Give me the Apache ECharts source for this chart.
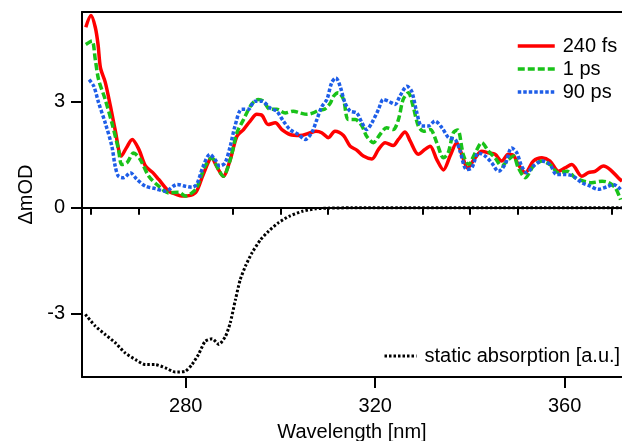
<!DOCTYPE html>
<html>
<head>
<meta charset="utf-8">
<script src="https://cdn.jsdelivr.net/npm/echarts@6/dist/echarts.min.js"></script>
<style>
html,body{margin:0;padding:0;background:#fff;}
#chart{width:622px;height:441px;}
</style>
</head>
<body>
<div id="chart"></div>
<script>
// ---- data ----
const seriesNames = ['240 fs', '1 ps', '90 ps'];
const staticName = 'static absorption [a.u.]';

const red240fs = [[258.9,5.1],[260.0,5.43],[260.9,5.1],[261.5,4.6],[262.0,3.95],[263.0,3.55],[264.1,2.87],[265.1,2.2],[266.4,1.46],[267.5,1.7],[268.7,1.93],[270.1,1.65],[271.5,1.18],[273.0,1.0],[274.3,0.8],[276.4,0.47],[278.0,0.38],[279.2,0.33],[281.0,0.35],[282.3,0.47],[283.7,0.94],[285.5,1.41],[286.5,1.18],[287.9,0.89],[289.4,1.36],[290.8,2.02],[292.2,2.21],[293.6,2.45],[295.0,2.64],[296.1,2.61],[297.4,2.35],[298.9,2.40],[300.3,2.21],[302.0,2.07],[304.1,2.04],[306.3,2.12],[307.5,2.16],[308.7,2.12],[310.1,1.98],[311.5,2.16],[313.3,2.04],[314.7,1.74],[316.1,1.63],[317.5,1.46],[319.3,1.38],[320.7,1.65],[322.1,1.84],[323.8,1.76],[324.9,1.93],[326.3,2.14],[327.4,1.88],[329.1,1.51],[330.5,1.65],[331.6,1.74],[333.0,1.36],[334.4,1.07],[335.8,1.46],[337.2,1.84],[338.3,1.5],[339.5,1.12],[341.1,1.41],[342.5,1.60],[343.9,1.55],[345.3,1.51],[346.7,1.32],[348.1,1.51],[349.2,1.48],[350.2,1.22],[351.7,0.99],[353.4,1.32],[355.2,1.41],[356.9,1.32],[358.7,1.03],[360.1,1.13],[361.5,1.22],[363.6,0.89],[365.0,0.99],[366.4,1.03],[368.2,1.18],[369.6,1.08],[371.3,0.85],[372.1,0.75]];

const green1ps = [[258.9,4.61],[260.2,4.71],[260.9,4.19],[261.6,3.62],[263.0,3.06],[264.4,2.40],[265.8,1.65],[266.5,1.22],[267.6,1.27],[269.0,1.55],[270.4,1.36],[272.2,0.89],[274.3,0.61],[276.4,0.42],[278.5,0.44],[279.9,0.33],[281.3,0.42],[282.3,0.56],[284.1,1.18],[285.5,1.41],[286.9,1.08],[287.9,0.89],[289.4,1.36],[290.8,2.12],[292.2,2.49],[293.9,2.92],[295.3,3.06],[296.4,3.01],[297.8,2.78],[299.2,2.78],[301.0,2.68],[302.7,2.73],[304.1,2.68],[305.6,2.64],[306.9,2.68],[308.0,2.75],[309.3,2.78],[310.5,2.95],[311.2,3.15],[312.2,3.25],[313.3,3.06],[314.3,2.49],[315.8,2.49],[317.2,2.31],[318.2,2.02],[319.6,1.84],[321.0,2.07],[322.4,2.26],[323.8,2.21],[324.9,2.49],[325.9,3.06],[327.0,3.25],[328.0,2.87],[329.1,2.31],[330.2,2.16],[331.6,2.21],[333.0,1.84],[334.4,1.41],[335.4,1.55],[336.5,2.12],[337.4,2.2],[338.6,1.5],[339.7,1.22],[341.1,1.55],[342.5,1.84],[343.9,1.60],[345.3,1.41],[346.7,1.18],[348.1,1.36],[349.2,1.46],[350.2,1.13],[351.7,0.85],[353.4,1.18],[355.2,1.32],[356.9,1.22],[358.7,0.99],[360.5,1.03],[362.2,0.85],[364.0,0.75],[365.7,0.71],[367.9,0.75],[369.3,0.71],[370.7,0.56],[371.8,0.23]];

const blue90ps = [[259.6,3.62],[260.6,3.43],[261.6,2.97],[263.0,2.40],[264.4,1.74],[265.1,1.18],[265.8,0.89],[266.9,0.85],[268.3,0.99],[269.7,0.80],[271.5,0.61],[273.6,0.54],[275.7,0.47],[278.2,0.66],[279.9,0.61],[281.3,0.58],[282.3,0.66],[283.7,1.18],[285.1,1.51],[286.2,1.36],[287.2,1.18],[288.3,1.27],[289.4,1.74],[290.4,2.31],[291.8,2.78],[293.2,2.78],[294.6,3.01],[296.1,3.01],[297.8,2.82],[299.2,2.73],[300.6,2.45],[302.0,2.21],[303.8,2.07],[305.2,1.93],[306.6,2.12],[307.7,2.5],[308.7,2.85],[309.8,3.06],[310.8,3.53],[311.7,3.67],[312.6,3.43],[313.6,2.97],[314.7,2.73],[316.1,2.68],[317.2,2.40],[318.2,2.21],[319.3,2.40],[320.7,2.78],[321.7,3.06],[322.8,3.01],[324.2,2.92],[325.2,3.15],[326.7,3.43],[327.7,3.29],[328.8,2.68],[329.8,2.31],[331.2,2.31],[332.6,2.45],[334.1,2.26],[335.5,1.98],[336.9,1.93],[337.9,1.6],[339.3,1.08],[340.4,1.13],[341.8,1.55],[343.2,1.46],[344.6,1.27],[346.0,1.03],[347.4,1.22],[348.8,1.69],[349.9,1.55],[350.9,1.18],[352.0,0.99],[353.4,1.18],[355.2,1.32],[356.9,1.22],[358.3,0.94],[360.1,0.94],[361.8,0.89],[363.6,0.71],[365.4,0.61],[367.1,0.52],[368.9,0.59],[370.3,0.66],[371.8,0.52]];

const staticAbs = [[258.8,-3.01],[260.9,-3.34],[263.0,-3.58],[265.1,-3.81],[267.2,-4.10],[269.4,-4.29],[271.5,-4.43],[273.6,-4.43],[275.7,-4.52],[277.8,-4.64],[279.9,-4.62],[281.3,-4.43],[282.7,-4.14],[284.1,-3.77],[285.6,-3.70],[287.0,-3.86],[288.4,-3.63],[289.4,-3.25],[290.5,-2.59],[291.5,-2.03],[292.6,-1.65],[294.0,-1.27],[295.8,-0.90],[297.5,-0.66],[299.6,-0.42],[301.8,-0.24],[304.6,-0.10],[307.4,-0.03],[310,-0.01],[315,0],[372.1,0]];

const xMajorTicks = [280, 320, 360];
const xMinorTicks = [260, 270, 290, 300, 310, 330, 340, 350, 370];
const yTicks = [-3, 0, 3];
const xRange = [258.1, 372.1];
const yRange = [-4.78, 5.53];
const xTitle = 'Wavelength [nm]';
const yTitle = 'ΔmOD';

// ---- chart ----
const FONT = 'Liberation Sans, Arial, sans-serif';
const FS = 20;
const chart = echarts.init(document.getElementById('chart'), null, {renderer: 'canvas'});

const lineBase = {type: 'line', showSymbol: false, symbol: 'none', smooth: 0.3, xAxisIndex: 0, yAxisIndex: 0};

chart.setOption({
  animation: false,
  backgroundColor: '#fff',
  grid: {left: 82, right: 0, top: 12, bottom: 64, containLabel: false, outerBoundsMode: 'none'},
  xAxis: [
    {type: 'value', position: 'bottom', min: xRange[0], max: xRange[1],
     name: xTitle, nameLocation: 'middle', nameGap: 45,
     nameTextStyle: {color: '#000', fontSize: FS, fontFamily: FONT},
     axisLine: {show: true, onZero: false, lineStyle: {color: '#000', width: 2}},
     axisTick: {show: true, customValues: xMajorTicks, length: 11, lineStyle: {color: '#000', width: 2}},
     axisLabel: {show: true, customValues: xMajorTicks, margin: 19, color: '#000', fontSize: FS, fontFamily: FONT},
     splitLine: {show: false}},
    {type: 'value', position: 'bottom', min: xRange[0], max: xRange[1],
     axisLine: {show: false},
     axisTick: {show: true, customValues: xMinorTicks, length: 7, lineStyle: {color: '#000', width: 2}},
     axisLabel: {show: false}, splitLine: {show: false}},
    {type: 'value', position: 'top', min: xRange[0], max: xRange[1],
     axisLine: {show: true, onZero: false, lineStyle: {color: '#000', width: 2}},
     axisTick: {show: false}, axisLabel: {show: false}, splitLine: {show: false}}
  ],
  yAxis: [{
    type: 'value', min: yRange[0], max: yRange[1],
    name: yTitle, nameLocation: 'middle', nameGap: 27,
    nameTextStyle: {color: '#000', fontSize: FS, fontFamily: FONT},
    axisLine: {show: true, onZero: false, lineStyle: {color: '#000', width: 2}},
    axisTick: {show: true, customValues: yTicks, length: 11, lineStyle: {color: '#000', width: 2}},
    axisLabel: {show: true, customValues: yTicks, margin: 17, color: '#000', fontSize: FS, fontFamily: FONT},
    splitLine: {show: false}
  }],
  legend: [
    {data: seriesNames, orient: 'vertical', left: 511, top: 31, itemWidth: 37, itemHeight: 14, itemGap: 3,
     itemStyle: {opacity: 0}, lineStyle: {width: 3.5},
     textStyle: {color: '#000', fontSize: FS, fontFamily: FONT, padding: [0, 0, 0, 3]}},
    {data: [staticName], orient: 'horizontal', left: 378, top: 341, itemWidth: 32, itemHeight: 14,
     itemStyle: {opacity: 0}, lineStyle: {width: 3},
     textStyle: {color: '#000', fontSize: FS, fontFamily: FONT, padding: [0, 0, 0, 3]}}
  ],
  series: [
    Object.assign({}, lineBase, {
      name: staticName, data: staticAbs, smooth: 0.2, z: 2,
      itemStyle: {color: '#000'},
      lineStyle: {color: '#000', width: 3, type: [2.5, 2]},
      markLine: {silent: true, symbol: 'none', label: {show: false},
        lineStyle: {color: '#000', width: 2, type: 'solid'}, data: [{yAxis: 0}]}
    }),
    Object.assign({}, lineBase, {
      name: seriesNames[0], data: red240fs, z: 3,
      itemStyle: {color: '#ff0000'},
      lineStyle: {color: '#ff0000', width: 3.5, type: 'solid'}
    }),
    Object.assign({}, lineBase, {
      name: seriesNames[1], data: green1ps, z: 4,
      itemStyle: {color: '#19c219'},
      lineStyle: {color: '#19c219', width: 3.5, type: [7, 3]}
    }),
    Object.assign({}, lineBase, {
      name: seriesNames[2], data: blue90ps, z: 5,
      itemStyle: {color: '#1e5ee8'},
      lineStyle: {color: '#1e5ee8', width: 3.5, type: [3.5, 2]}
    })
  ]
});
</script>
</body>
</html>
